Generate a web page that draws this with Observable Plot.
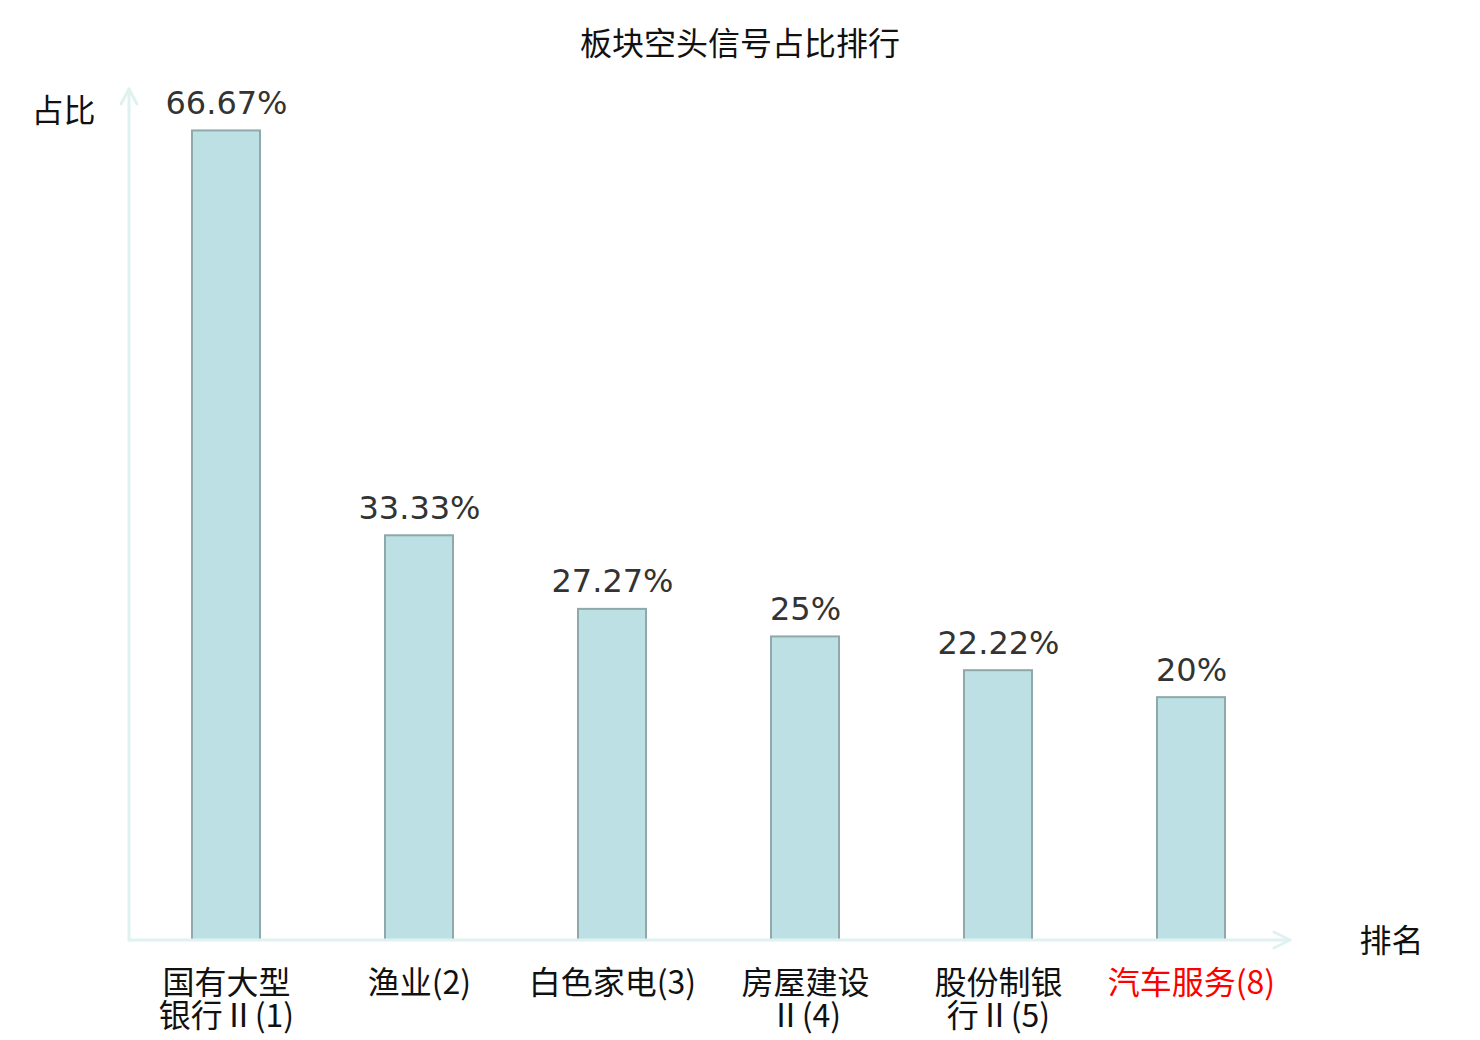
<!DOCTYPE html>
<html>
<head>
<meta charset="utf-8">
<script src="https://cdn.jsdelivr.net/npm/d3@7"></script>
<script src="https://cdn.jsdelivr.net/npm/@observablehq/plot@0.6"></script>
<style>
  html, body { margin: 0; padding: 0; background: #fff; }
  #wrap { position: relative; width: 1480px; height: 1040px; }
  #title { position: absolute; top: 19px; left: 0; width: 1480px; text-align: center;
    font-family: "Noto Sans CJK SC", sans-serif; font-size: 32px; line-height: 44px; color: #111; }
</style>
</head>
<body>
<div id="wrap">
  <div id="title">板块空头信号占比排行</div>
</div>
<script>
const categories = ["国有大型\n银行Ⅱ(1)", "渔业(2)", "白色家电(3)", "房屋建设\nⅡ(4)", "股份制银\n行Ⅱ(5)", "汽车服务(8)"];
const values = [66.67, 33.33, 27.27, 25, 22.22, 20];
const valueLabels = ["66.67%", "33.33%", "27.27%", "25%", "22.22%", "20%"];
const highlighted = [false, false, false, false, false, true];

const data = categories.map((c, i) => ({cat: c, value: values[i], label: valueLabels[i], hl: highlighted[i]}));

const axisColor = "#dff2f0";

function axesWithArrows(index, scales, values, dims) {
  const svg = d3.create("svg:g");
  const x0 = dims.marginLeft, x1 = dims.width - dims.marginRight + 2;
  const y0 = dims.height - dims.marginBottom, y1 = dims.marginTop - 1;
  const g = svg.attr("fill", "none").attr("stroke", axisColor).attr("stroke-width", 3)
    .attr("stroke-linecap", "round").attr("stroke-linejoin", "round");
  g.append("path").attr("d", `M${x0},${y0}L${x0},${y1}`);
  g.append("path").attr("d", `M${x0},${y0}L${x1},${y0}`);
  g.append("path").attr("d", `M${x0-8},${y1+15}L${x0},${y1}L${x0+8},${y1+15}`);
  g.append("path").attr("d", `M${x1-16},${y0-8}L${x1},${y0}L${x1-16},${y0+8}`);
  return svg.node();
}

const chart = Plot.plot({
  width: 1480,
  height: 1040,
  marginLeft: 129,
  marginRight: 192,
  marginTop: 90,
  marginBottom: 100,
  style: {background: "transparent", overflow: "visible"},
  x: {domain: categories, paddingInner: 0.65, paddingOuter: 0.325, axis: null},
  y: {domain: [0, 70], axis: null},
  marks: [
    Plot.barY(data, {x: "cat", y: "value", fill: "#bce0e3", stroke: "#8fa9aa", strokeWidth: 2}),
    axesWithArrows,
    Plot.text(data, {x: "cat", y: "value", text: "label", lineAnchor: "bottom", dy: -17,
      fontSize: 32, fill: "#333", fontFamily: "DejaVu Sans"}),
    Plot.text(data, {x: "cat", text: "cat", frameAnchor: "bottom", lineAnchor: "top", dy: 30,
      fontSize: 32, lineHeight: 1.04, fontFamily: "Noto Sans CJK SC",
      fill: d => d.hl ? "#ff0000" : "#111"}),
    Plot.text(["占比"], {frameAnchor: "top-left", dx: -66, dy: 21, lineAnchor: "middle", textAnchor: "middle",
      fontSize: 32, fontFamily: "Noto Sans CJK SC", fill: "#111"}),
    Plot.text(["排名"], {frameAnchor: "bottom-right", dx: 103, dy: 1, lineAnchor: "middle", textAnchor: "middle",
      fontSize: 32, fontFamily: "Noto Sans CJK SC", fill: "#111"})
  ]
});
document.getElementById("wrap").appendChild(chart);
</script>
</body>
</html>
